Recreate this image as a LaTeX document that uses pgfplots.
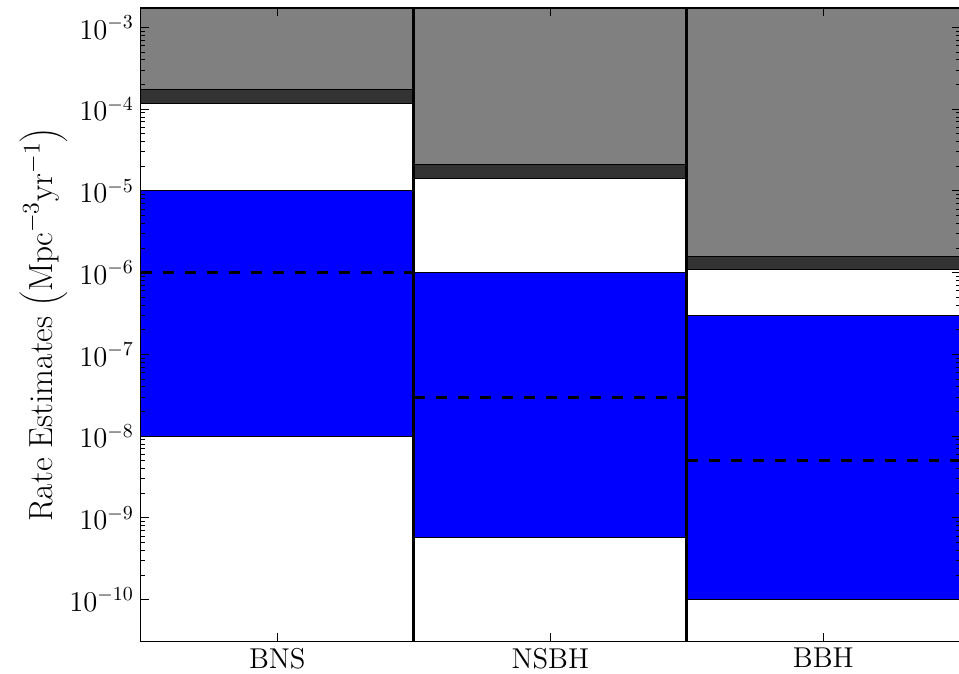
\documentclass[border=0pt]{standalone}
\usepackage{fontspec}
\usepackage{pgfplots}
\pgfplotsset{compat=1.18}
\definecolor{bandgray}{HTML}{808080}
\definecolor{banddark}{HTML}{333333}
\definecolor{bandblue}{HTML}{0000FF}
\begin{document}
\begin{tikzpicture}
\begin{axis}[
  scale only axis, width=410bp, height=317bp,
  xmin=0, xmax=3, ymin=3.1e-11, ymax=1.73e-3,
  ymode=log,
  xtick={0.5,1.5,2.5}, xticklabels={BNS,NSBH,BBH},
  ytick={1e-10,1e-9,1e-8,1e-7,1e-6,1e-5,1e-4,1e-3},
  tick align=inside, major tick length=4bp, minor tick length=2bp,
  every tick/.style={black, line width=0.5bp},
  axis line style={line width=0.6bp},
  tick label style={font=\fontsize{14.4}{17}\selectfont},
  ylabel={Rate Estimates $\left(\mathrm{Mpc}^{-3}\mathrm{yr}^{-1}\right)$},
  ylabel style={font=\fontsize{16.8}{20}\selectfont, at={(axis description cs:-0.081,0.5)}, anchor=south},
  axis on top,
  clip=true,
]
% BNS
\addplot[fill=bandgray, draw=black, line width=0.5bp] coordinates {(0,1.76e-4) (1,1.76e-4) (1,1e-1) (0,1e-1) (0,1.76e-4)};
\addplot[fill=banddark, draw=black, line width=0.5bp] coordinates {(0,1.19e-4) (1,1.19e-4) (1,1.76e-4) (0,1.76e-4) (0,1.19e-4)};
\addplot[fill=bandblue, draw=black, line width=0.5bp] coordinates {(0,1e-8) (1,1e-8) (1,1e-5) (0,1e-5) (0,1e-8)};
\addplot[black, line width=1.5bp, dash pattern=on 5.5bp off 5.5bp] coordinates {(0,1e-6) (1,1e-6)};
% NSBH
\addplot[fill=bandgray, draw=black, line width=0.5bp] coordinates {(1,2.1e-5) (2,2.1e-5) (2,1e-1) (1,1e-1) (1,2.1e-5)};
\addplot[fill=banddark, draw=black, line width=0.5bp] coordinates {(1,1.41e-5) (2,1.41e-5) (2,2.1e-5) (1,2.1e-5) (1,1.41e-5)};
\addplot[fill=bandblue, draw=black, line width=0.5bp] coordinates {(1,5.8e-10) (2,5.8e-10) (2,1e-6) (1,1e-6) (1,5.8e-10)};
\addplot[black, line width=1.5bp, dash pattern=on 5.5bp off 5.5bp] coordinates {(1,3e-8) (2,3e-8)};
% BBH
\addplot[fill=bandgray, draw=black, line width=0.5bp] coordinates {(2,1.58e-6) (3,1.58e-6) (3,1e-1) (2,1e-1) (2,1.58e-6)};
\addplot[fill=banddark, draw=black, line width=0.5bp] coordinates {(2,1.08e-6) (3,1.08e-6) (3,1.58e-6) (2,1.58e-6) (2,1.08e-6)};
\addplot[fill=bandblue, draw=black, line width=0.5bp] coordinates {(2,1e-10) (3,1e-10) (3,3e-7) (2,3e-7) (2,1e-10)};
\addplot[black, line width=1.5bp, dash pattern=on 5.5bp off 5.5bp] coordinates {(2,5e-9) (3,5e-9)};
% separators
\addplot[black, line width=1.5bp] coordinates {(1,1e-12) (1,1)};
\addplot[black, line width=1.5bp] coordinates {(2,1e-12) (2,1)};
\end{axis}
\pgfresetboundingbox
\useasboundingbox (-70.5bp,-16bp) rectangle (409.6bp,321bp);
\end{tikzpicture}
\end{document}
